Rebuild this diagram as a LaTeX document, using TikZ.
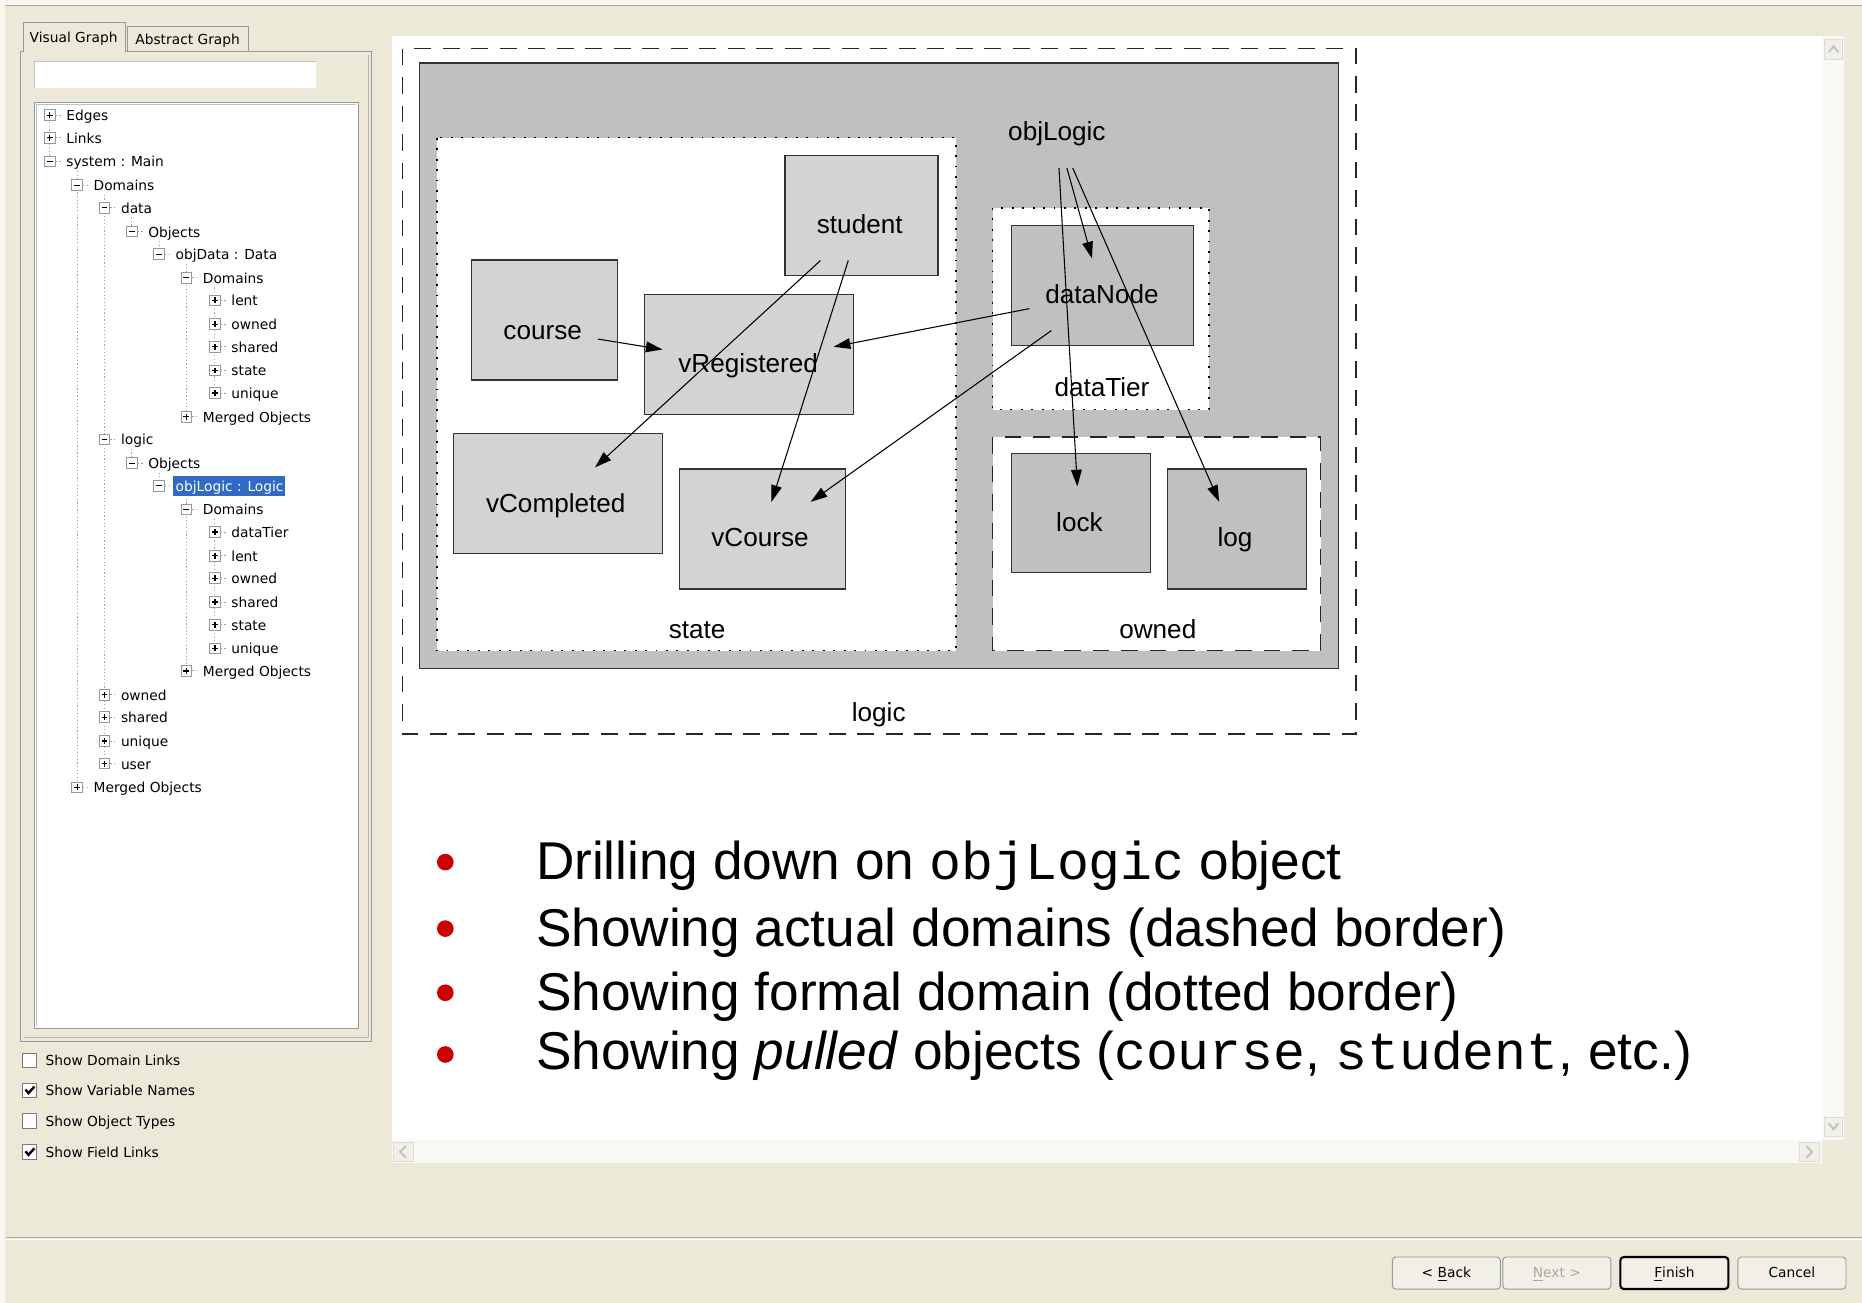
\documentclass[tikz,border=0pt]{standalone}
\usepackage{fontspec}
\setmainfont{Liberation Sans}
\setmonofont{Liberation Mono}
\newfontfamily\guifont{DejaVu Sans}
\usetikzlibrary{arrows.meta, positioning}

\definecolor{winbg}{HTML}{ECE9D8}
\definecolor{panelgray}{HTML}{919B9C}
\definecolor{sepgray}{HTML}{ACA899}
\definecolor{treegray}{HTML}{A0A0A0}
\definecolor{objgray}{HTML}{C0C0C0}
\definecolor{boxgray}{HTML}{D3D3D3}
\definecolor{selblue}{HTML}{316AC5}
\definecolor{bulletred}{HTML}{CC0000}
\definecolor{btnface}{HTML}{F2F0E6}
\definecolor{disgray}{HTML}{ACA899}
\definecolor{scrollbg}{HTML}{F8F8F4}
\definecolor{scrollface}{HTML}{F0EFE8}
\definecolor{chevgray}{HTML}{C4C2B8}

\begin{document}
\begin{tikzpicture}[x=0.5pt, y=-0.5pt,
    gui/.style={font=\guifont\fontsize{5.8}{7}\selectfont, inner sep=0pt,
                text height=5.3pt, text depth=0.7pt},
    treeline/.style={draw=treegray, line width=0.4pt, dash pattern=on 0.5pt off 1pt},
    expander/.style={draw=panelgray, fill=white, line width=0.4pt},
    objbox/.style={draw=black!80, line width=0.55pt},
    lbl/.style={font=\fontsize{11}{13}\selectfont, inner xsep=6.5pt, inner ysep=0pt,
                minimum height=30pt, text height=9pt, text depth=1.5pt},
    fieldlink/.style={-{Triangle[length=7pt, width=4.5pt]}, line width=0.45pt},
    formal/.style={draw=black, line width=0.6pt, dash pattern=on 0.8pt off 3.6pt},
    actual/.style={draw=black!85, line width=0.6pt, dash pattern=on 7pt off 5pt},
    bullet/.style={font=\fontsize{22.4}{27}\selectfont, anchor=base west, inner sep=0pt},
    btn/.style={gui, text height=4.6pt, text depth=1.2pt, draw=panelgray, fill=btnface,
                rounded corners=1.5pt, minimum width=45.5pt, minimum height=13.5pt}]
    \useasboundingbox (0,0) rectangle (1568,1097);
    % window background
    \fill[winbg] (0,0) rectangle (1568,1097);
    \fill[white!60!winbg] (0,0) rectangle (1568,4);
    \draw[sepgray] (0,4.5) -- (1568,4.5);
    \fill[white!60!winbg] (0,4.5) rectangle (4,1097);

    % left panel with tabs
    \draw[panelgray, fill=winbg] (17,43) rectangle (313,877);
    \draw[panelgray!70] (310.5,46) -- (310.5,874) -- (20,874);
    \draw[panelgray, fill=winbg] (107,43) |- (209,22) -- (209,43);
    \fill[winbg] (19.6,20) rectangle (105.6,44);
    \draw[panelgray] (19.5,43.5) |- (106,19) -- (106,43.5);
    \node[gui] (tabVisual) at (62,31) {Visual Graph};
    \node[gui] (tabAbstract) at (158,33) {Abstract Graph};
    % search field and tree view
    \fill[white] (29,52) rectangle (266,74);
    \draw[panelgray!60] (29,74) |- (266,52);
    \draw[panelgray, fill=white] (29,86) rectangle (302,866);
    \draw[panelgray!60] (31,864) |- (300,88);

    % tree lines
    \foreach \x/\ya/\yb in {42/97/136, 65/144/663, 88/164/643, 111/183/195, 134/203/214,
                            157/222/351, 181/242/331, 111/378/390, 134/398/409,
                            157/417/565, 181/437/546}
        \draw[treeline] (\x,\ya) -- (\x,\yb);
    \fill[selblue] (146,401) rectangle (240,418);
    \foreach \x/\y/\p/\lab [count=\i] in {42/97/1/Edges, 42/116/1/Links, 42/136/0/system : Main,
            65/156/0/Domains, 88/175/0/data, 111/195/0/Objects, 134/214/0/objData : Data,
            157/234/0/Domains, 181/253/1/lent, 181/273/1/owned, 181/292/1/shared,
            181/312/1/state, 181/331/1/unique, 157/351/1/Merged Objects,
            88/370/0/logic, 111/390/0/Objects, 134/409/0/{\textcolor{white}{objLogic : Logic}},
            157/429/0/Domains, 181/448/1/dataTier, 181/468/1/lent, 181/487/1/owned,
            181/507/1/shared, 181/526/1/state, 181/546/1/unique, 157/565/1/Merged Objects,
            88/585/1/owned, 88/604/1/shared, 88/624/1/unique, 88/643/1/user,
            65/663/1/Merged Objects} {
        \draw[treeline] (\x+5,\y) -- (\x+11,\y);
        \draw[expander] (\x-4.5,\y-4.5) rectangle (\x+4.5,\y+4.5);
        \draw[line width=0.5pt] (\x-2.5,\y) -- (\x+2.5,\y);
        \ifnum\p=1 \draw[line width=0.5pt] (\x,\y-2.5) -- (\x,\y+2.5); \fi
        \node[gui, anchor=west] (tree\i) at (\x+13.5,\y) {\lab};
    }

    % option check boxes
    \foreach \y/\c/\lab [count=\i] in {893/0/Show Domain Links, 918/1/Show Variable Names,
                                       944/0/Show Object Types, 970/1/Show Field Links} {
        \draw[panelgray!80!black, fill=white] (19,\y-6) rectangle (31,\y+6);
        \ifnum\c=1 \draw[line width=1pt] (21.5,\y-0.5) -- (24,\y+2.5) -- (29,\y-3); \fi
        \node[gui, anchor=west] (opt\i) at (38,\y) {\lab};
    }

    % graph view
    \fill[white] (330,30) rectangle (1534,960);
    \draw[actual] (339,41) rectangle (1142,618);
    \draw[objbox, fill=objgray] (353,53) rectangle (1127,563);
    \draw[formal, fill=white] (368,116) rectangle (805,548);
    \draw[formal, fill=white] (836,175) rectangle (1018,345);
    \draw[actual, fill=white] (836,368) rectangle (1112,548);
    \foreach \xa/\ya/\xb/\yb in {661/131/790/232, 397/219/520/320, 543/248/719/349,
                                 382/365/558/466, 572/395/712/496}
        \draw[objbox, fill=boxgray] (\xa,\ya) rectangle (\xb,\yb);
    \foreach \xa/\ya/\xb/\yb in {852/190/1005/291, 852/382/969/482, 983/395/1100/496}
        \draw[objbox, fill=objgray] (\xa,\ya) rectangle (\xb,\yb);
    \node[lbl] (objLogic) at (890,111) {objLogic};
    \node[lbl] (student) at (724,189) {student};
    \node[lbl] (course) at (457,278) {course};
    \node[lbl] (vRegistered) at (630,306) {vRegistered};
    \node[lbl] (vCompleted) at (468,424) {vCompleted};
    \node[lbl] (vCourse) at (640,453) {vCourse};
    \node[lbl] (dataNode) at (928,248) {dataNode};
    \node[lbl] (lock) at (909,440) {lock};
    \node[lbl] (log) at (1040,453) {log};
    \node[lbl] (dataTier) at (928,326) {dataTier};
    \node[lbl] (state) at (587,530) {state};
    \node[lbl] (owned) at (975,530) {owned};
    \node[lbl] (logic) at (740,600) {logic};
    % field links
    \foreach \a/\b in {course/vRegistered, dataNode/vRegistered, student/vCompleted,
                       student/vCourse, dataNode/vCourse, objLogic/dataNode,
                       objLogic/lock, objLogic/log}
        \draw[fieldlink] (\a) -- (\b);

    % bullet list
    \foreach \yb in {726,782,836,888}
        \fill[bulletred] (375,\yb) circle [radius=7];
    \node[bullet] (item1) at (451,741) {Drilling down on \texttt{objLogic} object};
    \node[bullet] (item2) at (451,797) {Showing actual domains (dashed border)};
    \node[bullet] (item3) at (451,851) {Showing formal domain (dotted border)};
    \node[bullet] (item4) at (451,901)
        {Showing \textit{pulled} objects (\texttt{course}, \texttt{student}, etc.)};

    % scroll bars
    \fill[scrollbg] (1534,30) rectangle (1553,960);
    \fill[scrollbg] (330,960) rectangle (1534,979);
    \draw[chevgray!60, fill=scrollface] (1536.5,33) rectangle (1551.5,50);
    \draw[chevgray!60, fill=scrollface] (1536.5,941) rectangle (1551.5,957);
    \draw[chevgray!60, fill=scrollface] (331,962) rectangle (348,978);
    \draw[chevgray!60, fill=scrollface] (1515,962) rectangle (1532,978);
    \draw[chevgray, line width=0.8pt] (1540,44) -- (1544,39) -- (1548,44);
    \draw[chevgray, line width=0.8pt] (1540,946) -- (1544,951) -- (1548,946);
    \draw[chevgray, line width=0.8pt] (342,965) -- (337,970) -- (342,975);
    \draw[chevgray, line width=0.8pt] (1521,965) -- (1526,970) -- (1521,975);

    % dialog buttons
    \draw[sepgray] (5,1042) -- (1568,1042);
    \draw[white] (5,1043.5) -- (1568,1043.5);
    \node[btn] (back) at (1218,1072) {< \underline{B}ack};
    \node[btn, text=disgray] (next) at (1311,1072) {\underline{N}ext >};
    \node[btn, draw=black, line width=0.9pt] (finish) at (1410,1072) {\underline{F}inish};
    \node[btn] (cancel) at (1509,1072) {Cancel};
\end{tikzpicture}
\end{document}
